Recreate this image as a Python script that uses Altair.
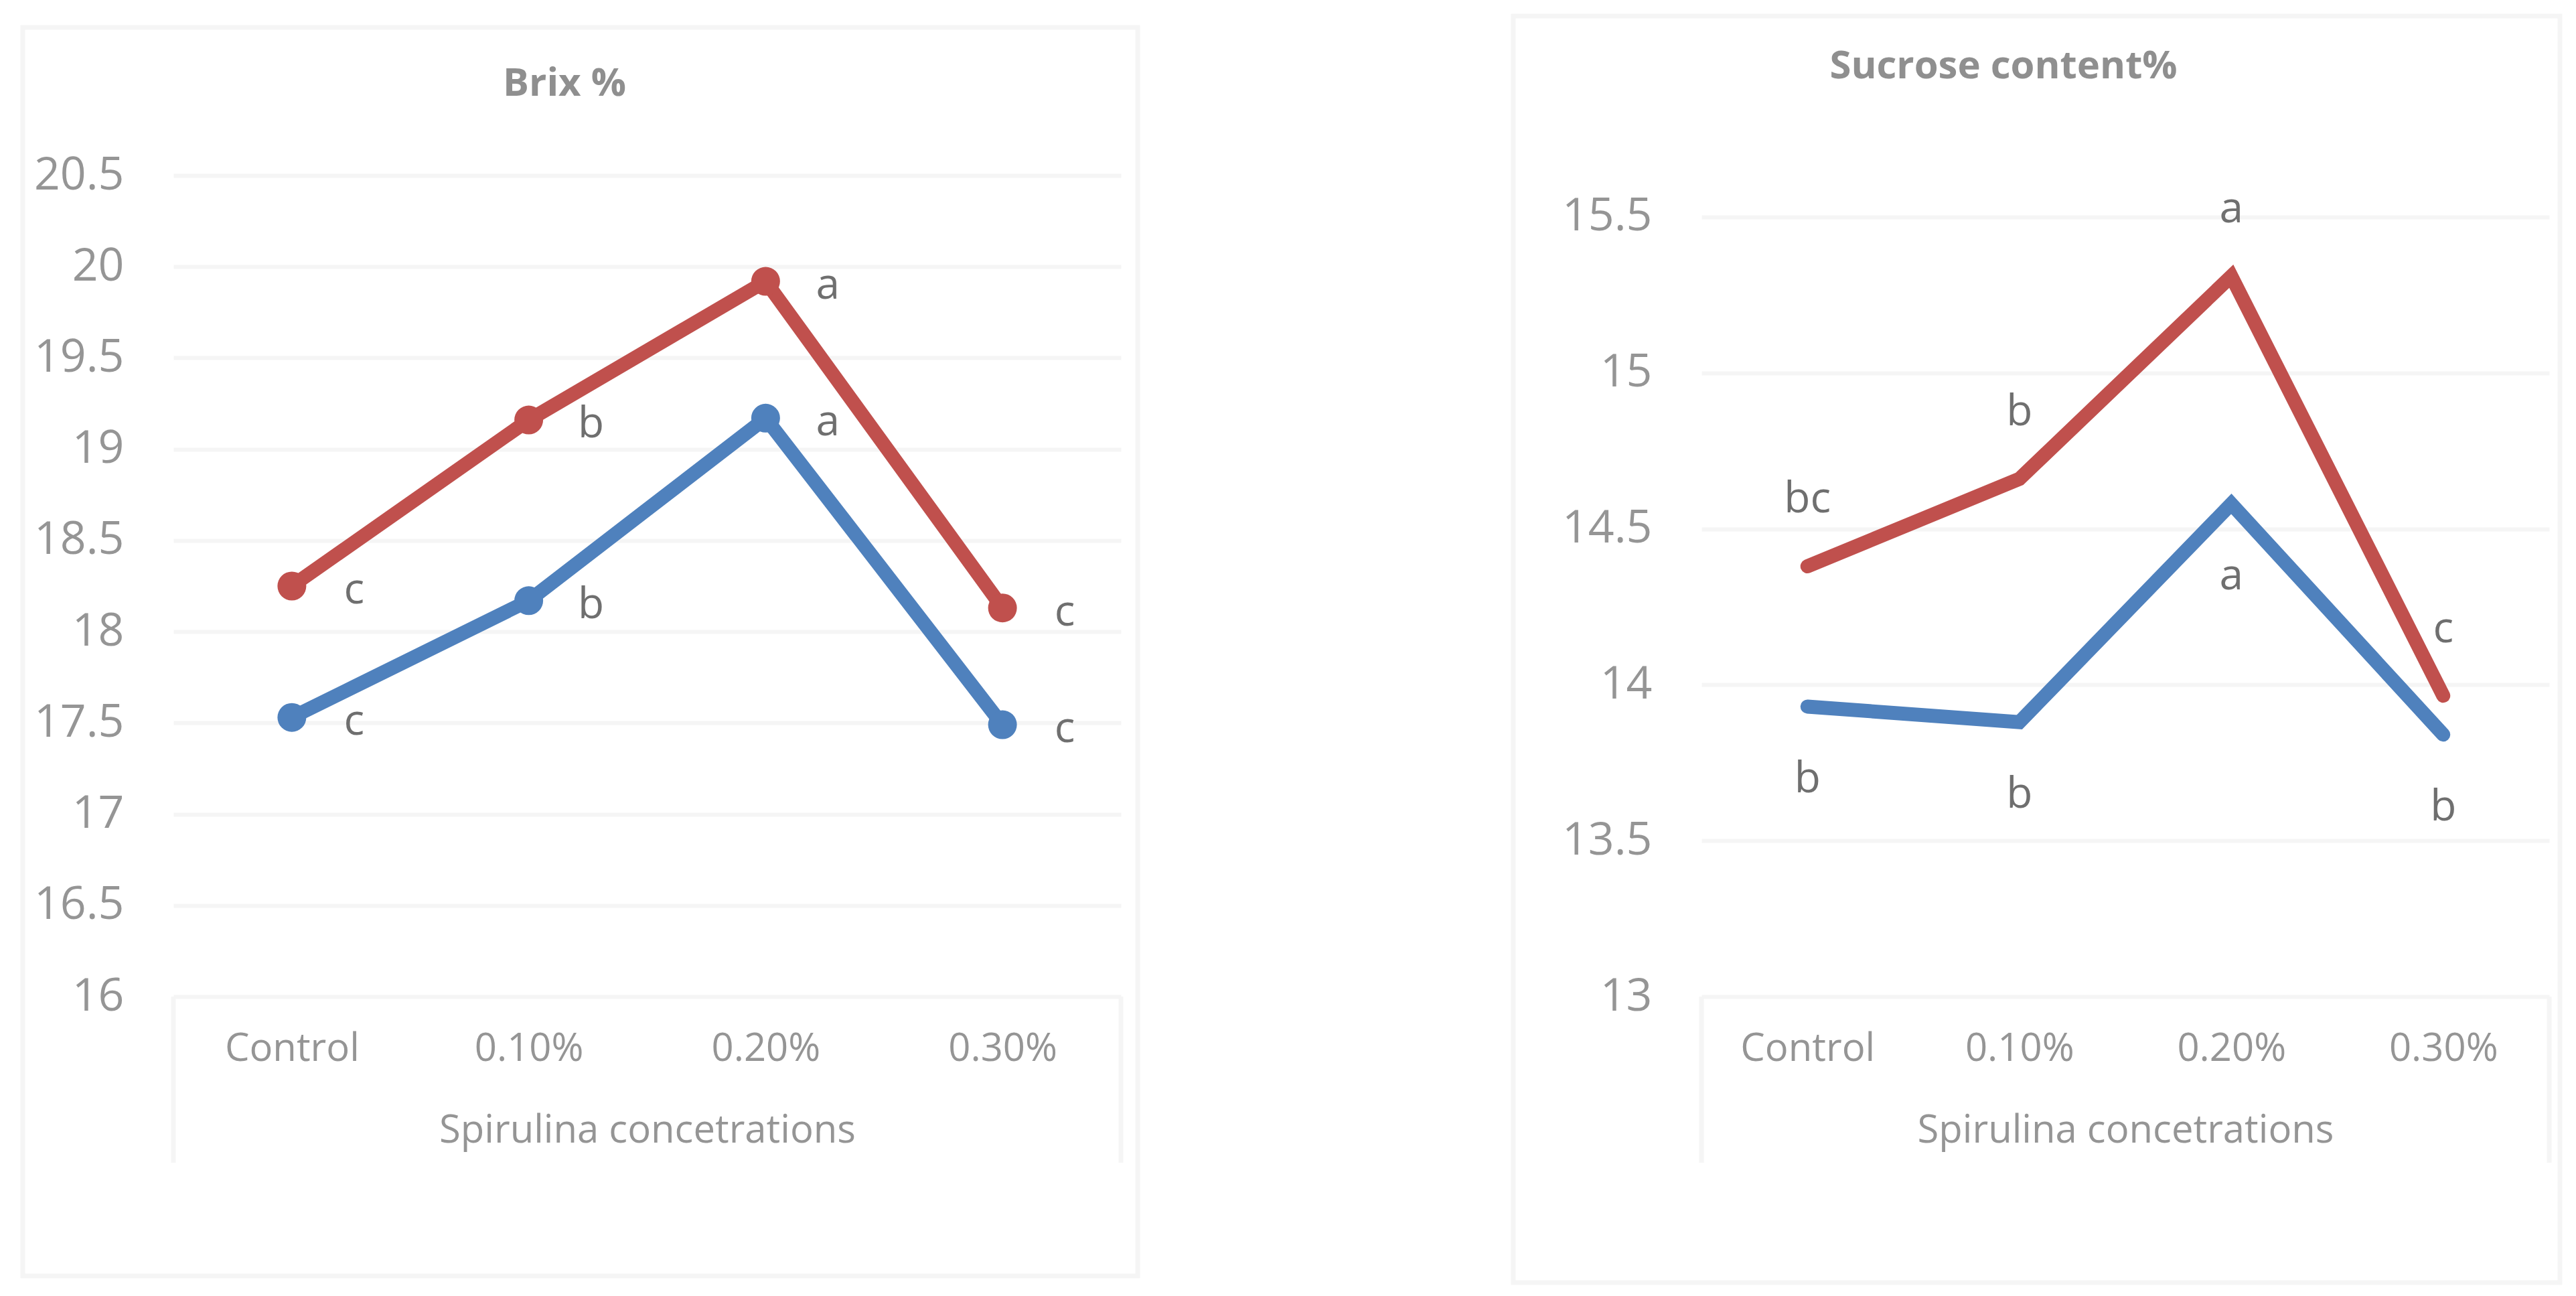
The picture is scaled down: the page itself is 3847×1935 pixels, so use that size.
import altair as alt
import pandas as pd

# ---------------- data ----------------
categories = ["Control", "0.10%", "0.20%", "0.30%"]
series_names = ["Series 1", "Series 2"]  # blue, red

brix_blue = [17.53, 18.17, 19.17, 17.49]
brix_red = [18.25, 19.16, 19.92, 18.13]
brix_blue_letters = ["c", "b", "a", "c"]
brix_red_letters = ["c", "b", "a", "c"]

suc_blue = [13.93, 13.88, 14.58, 13.84]
suc_red = [14.38, 14.66, 15.31, 13.965]
suc_blue_letters = ["b", "b", "a", "b"]
suc_red_letters = ["bc", "b", "a", "c"]

brix_ticks = [16, 16.5, 17, 17.5, 18, 18.5, 19, 19.5, 20, 20.5]
suc_ticks = [13, 13.5, 14, 14.5, 15, 15.5]

brix_title = "Brix %"
suc_title = "Sucrose content%"
x_title = "Spirulina concetrations"

# ---------------- style ----------------
FONT = "Open Sans"
AXIS_GRAY = "#959595"
LETTER_GRAY = "#6f6f6f"
TITLE_GRAY = "#8f8f8f"
GRID = "#f5f5f5"
BLUE = "#4F81BD"
RED = "#C0504D"


def make_df(blue, red, blue_l, red_l):
    rows = []
    for c, v, l in zip(categories, blue, blue_l):
        rows.append({"cat": c, "series": series_names[0], "value": v, "letter": l})
    for c, v, l in zip(categories, red, red_l):
        rows.append({"cat": c, "series": series_names[1], "value": v, "letter": l})
    return pd.DataFrame(rows)


def panel(df, domain, ticks, width, height, title, title_x, title_y,
          border, markers, red_off, blue_off):
    x = alt.X(
        "cat:N", sort=categories,
        scale=alt.Scale(type="point", padding=0.5),
        axis=alt.Axis(
            title=x_title, labelAngle=0, domain=False, ticks=False, tickSize=0,
            grid=False, labelPadding=95, labelBaseline="alphabetic",
            labelFontSize=58, labelColor=AXIS_GRAY, labelFont=FONT, labelLimit=0,
            titleFont=FONT, titleFontSize=58, titleFontWeight="normal",
            titleColor=AXIS_GRAY, titleY=217, titleBaseline="alphabetic",
        ),
    )
    y = alt.Y(
        "value:Q",
        scale=alt.Scale(domain=domain, nice=False, zero=False),
        axis=alt.Axis(
            values=ticks, format="~g", title=None, domain=False, ticks=False,
            tickSize=0, labelPadding=74, labelFontSize=68, labelColor=AXIS_GRAY,
            labelFont=FONT, grid=True, gridColor=GRID, gridWidth=6,
        ),
    )
    color = alt.Color(
        "series:N",
        scale=alt.Scale(domain=series_names, range=[BLUE, RED]),
        legend=None,
    )
    one = pd.DataFrame({"d": [0]})

    frame = alt.Chart(one).mark_rect(
        fillOpacity=0, stroke=GRID, strokeWidth=7
    ).encode(
        x=alt.value(border[0]), x2=alt.value(border[1]),
        y=alt.value(border[2]), y2=alt.value(border[3]),
    )
    box_l = alt.Chart(one).mark_rule(color=GRID, strokeWidth=7).encode(
        x=alt.value(0), y=alt.value(height), y2=alt.value(height + 248)
    )
    box_r = alt.Chart(one).mark_rule(color=GRID, strokeWidth=7).encode(
        x=alt.value(width), y=alt.value(height), y2=alt.value(height + 248)
    )
    ttl = alt.Chart(one).mark_text(
        text=title, font=FONT, fontWeight="bold", fontSize=58,
        color=TITLE_GRAY, align="center", baseline="alphabetic",
    ).encode(x=alt.value(title_x), y=alt.value(title_y))

    base = alt.Chart(df).encode(x=x, y=y)
    lines = base.mark_line(
        strokeWidth=21, strokeCap="round", strokeJoin="miter"
    ).encode(color=color, detail="series:N")
    layers = [frame, box_l, box_r, ttl, lines]
    if markers:
        layers.append(
            base.mark_circle(size=1850, opacity=1).encode(color=color)
        )
    for sname, off in ((series_names[1], red_off), (series_names[0], blue_off)):
        layers.append(
            base.mark_text(
                font=FONT, fontSize=64, color=LETTER_GRAY, align="center",
                baseline="alphabetic", dx=off[0], dy=off[1],
            ).encode(text="letter:N").transform_filter(alt.datum.series == sname)
        )
    return alt.layer(*layers).properties(width=width, height=height)


brix_df = make_df(brix_blue, brix_red, brix_blue_letters, brix_red_letters)
suc_df = make_df(suc_blue, suc_red, suc_blue_letters, suc_red_letters)

left = panel(
    brix_df, [16, 20.5], brix_ticks, 1415, 1226, brix_title, 584, -119,
    (-225, 1440, -221, 1643), True, (93, 26), (93, 26),
)
right = panel(
    suc_df, [13, 15.633], suc_ticks, 1266, 1226, suc_title, 451, -145,
    (-281, 1282, -238, 1653), False, (0, -80), (0, 128),
)

chart = alt.hconcat(left, right, spacing=867, bounds="flush").properties(
    padding={"left": 22, "top": 12, "right": 10, "bottom": 10},
    background="white",
).configure_view(stroke=None)

chart.save("out.html", embed_options={"renderer": "svg", "actions": False})
